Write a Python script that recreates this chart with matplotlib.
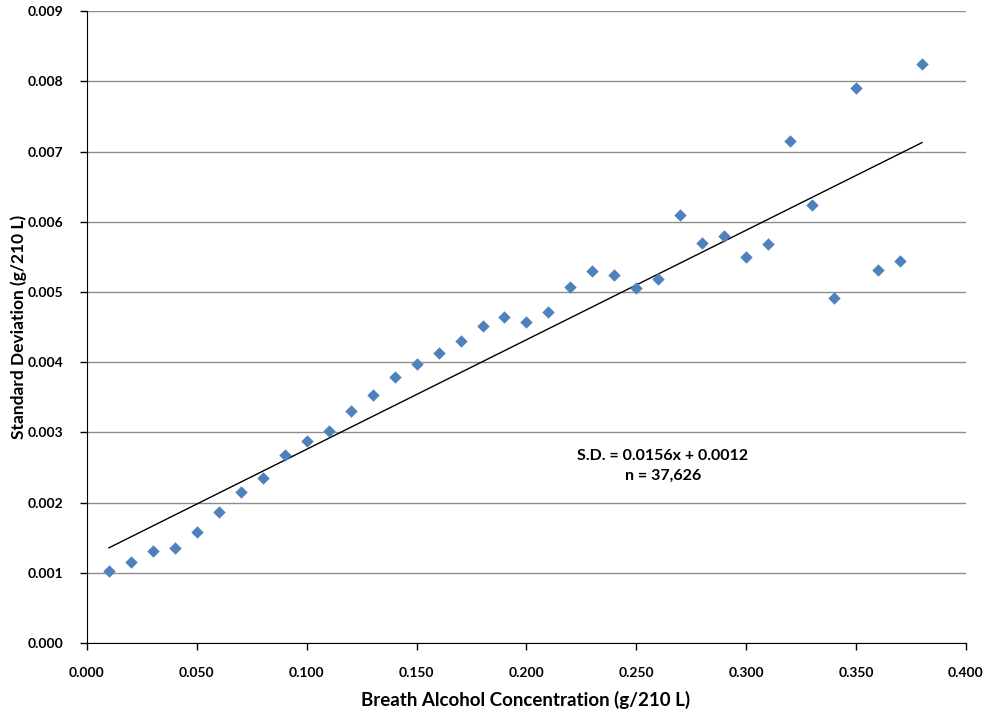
import matplotlib
matplotlib.use("Agg")
import matplotlib.pyplot as plt
import numpy as np

# breath alcohol concentration (g/210 L)
brac = [0.01, 0.02, 0.03, 0.04, 0.05, 0.06, 0.07, 0.08, 0.09, 0.10,
        0.11, 0.12, 0.13, 0.14, 0.15, 0.16, 0.17, 0.18, 0.19, 0.20,
        0.21, 0.22, 0.23, 0.24, 0.25, 0.26, 0.27, 0.28, 0.29, 0.30,
        0.31, 0.32, 0.33, 0.34, 0.35, 0.36, 0.37, 0.38]
# standard deviation (g/210 L)
sd = [0.00103, 0.00115, 0.00131, 0.00135, 0.00158, 0.00187, 0.00215, 0.00235, 0.00268, 0.00288,
      0.00302, 0.00330, 0.00353, 0.00379, 0.00397, 0.00413, 0.00430, 0.00452, 0.00464, 0.00457,
      0.00472, 0.00507, 0.00530, 0.00524, 0.00506, 0.00519, 0.00610, 0.00570, 0.00580, 0.00550,
      0.00568, 0.00715, 0.00624, 0.00491, 0.00790, 0.00531, 0.00544, 0.00825]
slope = 0.0156
intercept = 0.0012

plt.rcParams['font.family'] = ['Lato', 'DejaVu Sans']

fig = plt.figure(figsize=(9.86, 7.14), dpi=100)
ax = fig.add_axes([0.0882, 0.0994, 0.8915, 0.885])

ax.scatter(brac, sd, marker='D', s=40, color='#4F81BD', zorder=3, linewidths=0)
xs = np.array([brac[0], brac[-1]])
ax.plot(xs, slope * xs + intercept, color='black', lw=1.0, zorder=2)

ax.set_xlim(0, 0.4)
ax.set_ylim(0, 0.009)
ax.set_xticks(np.arange(0, 0.401, 0.05))
ax.set_yticks(np.arange(0, 0.0091, 0.001))
ax.set_xticklabels(['%.3f' % v for v in np.arange(0, 0.401, 0.05)], fontsize=10, fontweight='bold')
ax.set_yticklabels(['%.3f' % v for v in np.arange(0, 0.0091, 0.001)], fontsize=10, fontweight='bold')
ax.grid(axis='y', color='#8c8c8c', lw=1.0)
ax.set_axisbelow(True)
for s in ['top', 'right']:
    ax.spines[s].set_visible(False)
ax.tick_params(direction='out', length=5, width=1, pad=12)

ax.set_xlabel('Breath Alcohol Concentration (g/210 L)', fontsize=13.5, fontweight='bold', va='center')
ax.set_ylabel('Standard Deviation (g/210 L)', fontsize=12.5, fontweight='bold', va='center')
ax.xaxis.set_label_coords(0.4995, -0.090)
ax.yaxis.set_label_coords(-0.078, 0.5)

ax.text(0.2621, 0.00252, 'S.D. = 0.0156x + 0.0012\nn = 37,626', ha='center', va='center',
        fontsize=11.5, fontweight='bold', linespacing=1.5)

fig.savefig('out.png', dpi=100)
